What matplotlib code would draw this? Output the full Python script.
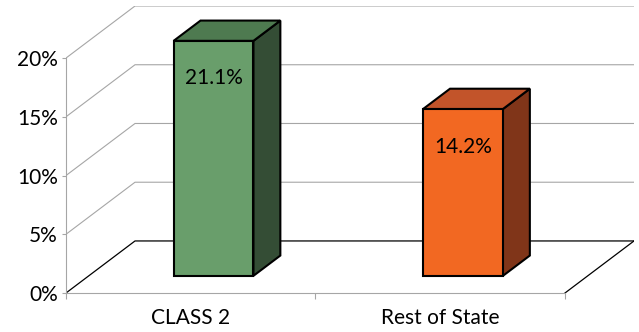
import matplotlib.pyplot as plt
from matplotlib.patches import Polygon
from matplotlib.ticker import FuncFormatter

categories = ["CLASS 2", "Rest of State"]
values = [21.1, 14.2]
value_labels = ["21.1%", "14.2%"]
y_ticks = [0, 5, 10, 15, 20]

front_colors = ["#699e6b", "#f26822"]
top_colors = ["#4e7a50", "#c2542a"]
side_colors = ["#344d35", "#803519"]

Y_MAX = 20
# oblique offset of the back wall, in data units
DEPTH_X = 0.2766
DEPTH_Y = 4.43
BAR_D0, BAR_D1 = 0.33, 0.72
BAR_HALF = 0.16
GRID = "#a6a6a6"
FS = 15


def proj(x, y, d):
    return (x + d * DEPTH_X, y + d * DEPTH_Y)


plt.rcParams["font.family"] = ["Lato", "DejaVu Sans"]

fig = plt.figure(figsize=(6.39, 3.32), dpi=100)
ax = fig.add_axes([66 / 639, 39 / 332, 568 / 639, 287 / 332])
n = len(categories)
ax.set_xlim(0, n + DEPTH_X)
ax.set_ylim(0, Y_MAX + DEPTH_Y)

# walls and floor
for v in y_ticks:
    col = "black" if v == 0 else GRID
    lw = 0.9 if v == 0 else 0.8
    xs, ys = zip(proj(0, v, 0), proj(0, v, 1), proj(n, v, 1))
    ax.plot(xs, ys, color=col, lw=lw, zorder=1, solid_capstyle="butt")
xs, ys = zip(proj(n, 0, 0), proj(n, 0, 1))
ax.plot(xs, ys, color="black", lw=0.9, zorder=1)

# 3d bars
for i, v in enumerate(values):
    h = min(v, Y_MAX)
    x0, x1 = i + 0.5 - BAR_HALF, i + 0.5 + BAR_HALF
    front = [proj(x0, 0, BAR_D0), proj(x1, 0, BAR_D0), proj(x1, h, BAR_D0), proj(x0, h, BAR_D0)]
    top = [proj(x0, h, BAR_D0), proj(x1, h, BAR_D0), proj(x1, h, BAR_D1), proj(x0, h, BAR_D1)]
    side = [proj(x1, 0, BAR_D0), proj(x1, 0, BAR_D1), proj(x1, h, BAR_D1), proj(x1, h, BAR_D0)]
    for pts, c in [(side, side_colors[i]), (top, top_colors[i]), (front, front_colors[i])]:
        ax.add_patch(Polygon(pts, closed=True, facecolor=c, edgecolor="black",
                             lw=1.5, joinstyle="miter", zorder=3))
    lx, ly = proj(i + 0.5, h - 3.2, BAR_D0)
    ax.text(lx, ly, value_labels[i], ha="center", va="center", fontsize=FS,
            color="black", zorder=4)

for s in ["top", "right"]:
    ax.spines[s].set_visible(False)
ax.spines["left"].set_bounds(0, Y_MAX)
ax.spines["bottom"].set_bounds(0, n)
for s in ["left", "bottom"]:
    ax.spines[s].set_color(GRID)
    ax.spines[s].set_linewidth(0.8)

ax.set_yticks(y_ticks)
ax.yaxis.set_major_formatter(FuncFormatter(lambda v, _: f"{v:.0f}%"))
ax.tick_params(axis="y", length=3, width=0.8, color=GRID, pad=3, labelsize=FS)

ax.set_xticks([i + 0.5 for i in range(n)])
ax.set_xticklabels(categories)
ax.set_xticks(list(range(n + 1)), minor=True)
ax.tick_params(axis="x", which="major", length=0, pad=11, labelsize=FS)
ax.tick_params(axis="x", which="minor", length=4, width=0.8, color=GRID)

fig.savefig("out.png", dpi=100)
